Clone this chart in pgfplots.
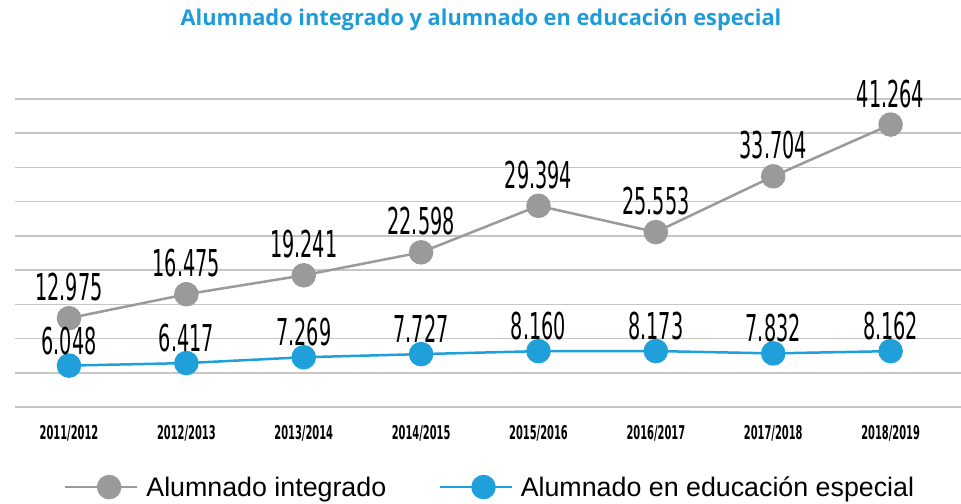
\documentclass[border=0pt]{standalone}
\usepackage{pgfplots}
\pgfplotsset{compat=1.18}
\usepackage{fontspec}
\setmainfont{Liberation Sans}
\newfontfamily\titlefont{Open Sans}
\newfontfamily\hand[FakeStretch=0.52]{DejaVu Sans}
\definecolor{tblue}{HTML}{1E9CD7}
\definecolor{pblue}{HTML}{1FA0DB}
\definecolor{pgray}{HTML}{9A9A9A}
\definecolor{gridc}{HTML}{C6C6C6}
\begin{document}
\begin{tikzpicture}
\begin{axis}[
  scale only axis, width=946pt, height=308pt,
  xmin=-0.46, xmax=7.6, ymin=0, ymax=45000,
  scaled y ticks=false,
  xtick={0,...,7},
  xticklabels={2011/2012,2012/2013,2013/2014,2014/2015,2015/2016,2016/2017,2017/2018,2018/2019},
  xticklabel style={font=\hand\bfseries\fontsize{19}{19}\selectfont, anchor=center, yshift=-26pt},
  ytick={0,5000,...,45000}, yticklabels={},
  ymajorgrids, grid style={gridc, line width=1.6pt},
  axis line style={draw=none}, major tick length=0pt,
  clip=false,
  title={Alumnado integrado y alumnado en educación especial},
  title style={font=\titlefont\bfseries\fontsize{21.8}{21.8}\selectfont, text=tblue, at={(0.5,1)}, anchor=center, yshift=73pt, xshift=-7pt},
  legend columns=2,
  legend style={at={(0.5,-0.26)}, anchor=center, xshift=5pt, draw=none, font=\fontsize{26.8}{26.8}\selectfont,
    /tikz/every even column/.append style={column sep=44pt},
    nodes={inner sep=8pt}},
  legend image code/.code={\draw[mark repeat=2, mark phase=2, #1] plot coordinates {(0pt,0pt) (44pt,0pt) (72pt,0pt)};},
  nodes near coords, point meta=explicit symbolic,
  every node near coord/.append style={font=\hand\fontsize{37}{37}\selectfont, text=black, anchor=center},
]
\addplot[pgray, line width=2.5pt, mark=*, mark size=11pt, mark options={fill=pgray, draw=pgray},
  every node near coord/.append style={yshift=31pt}] coordinates {
  (0,12975) [12.975]
  (1,16475) [16.475]
  (2,19241) [19.241]
  (3,22598) [22.598]
  (4,29394) [29.394]
  (5,25553) [25.553]
  (6,33704) [33.704]
  (7,41264) [41.264]
};
\addlegendentry{Alumnado integrado}
\addplot[pblue, line width=2.5pt, mark=*, mark size=11pt, mark options={fill=pblue, draw=pblue},
  every node near coord/.append style={yshift=25pt}] coordinates {
  (0,6048) [6.048]
  (1,6417) [6.417]
  (2,7269) [7.269]
  (3,7727) [7.727]
  (4,8160) [8.160]
  (5,8173) [8.173]
  (6,7832) [7.832]
  (7,8162) [8.162]
};
\addlegendentry{Alumnado en educación especial}
\coordinate (bl) at (rel axis cs:0,0);
\coordinate (tr) at (rel axis cs:1,1);
\end{axis}
\pgfresetboundingbox
\path[use as bounding box] ([shift={(-15pt,-96pt)}]bl) rectangle ([shift={(0pt,99pt)}]tr);
\end{tikzpicture}
\end{document}
